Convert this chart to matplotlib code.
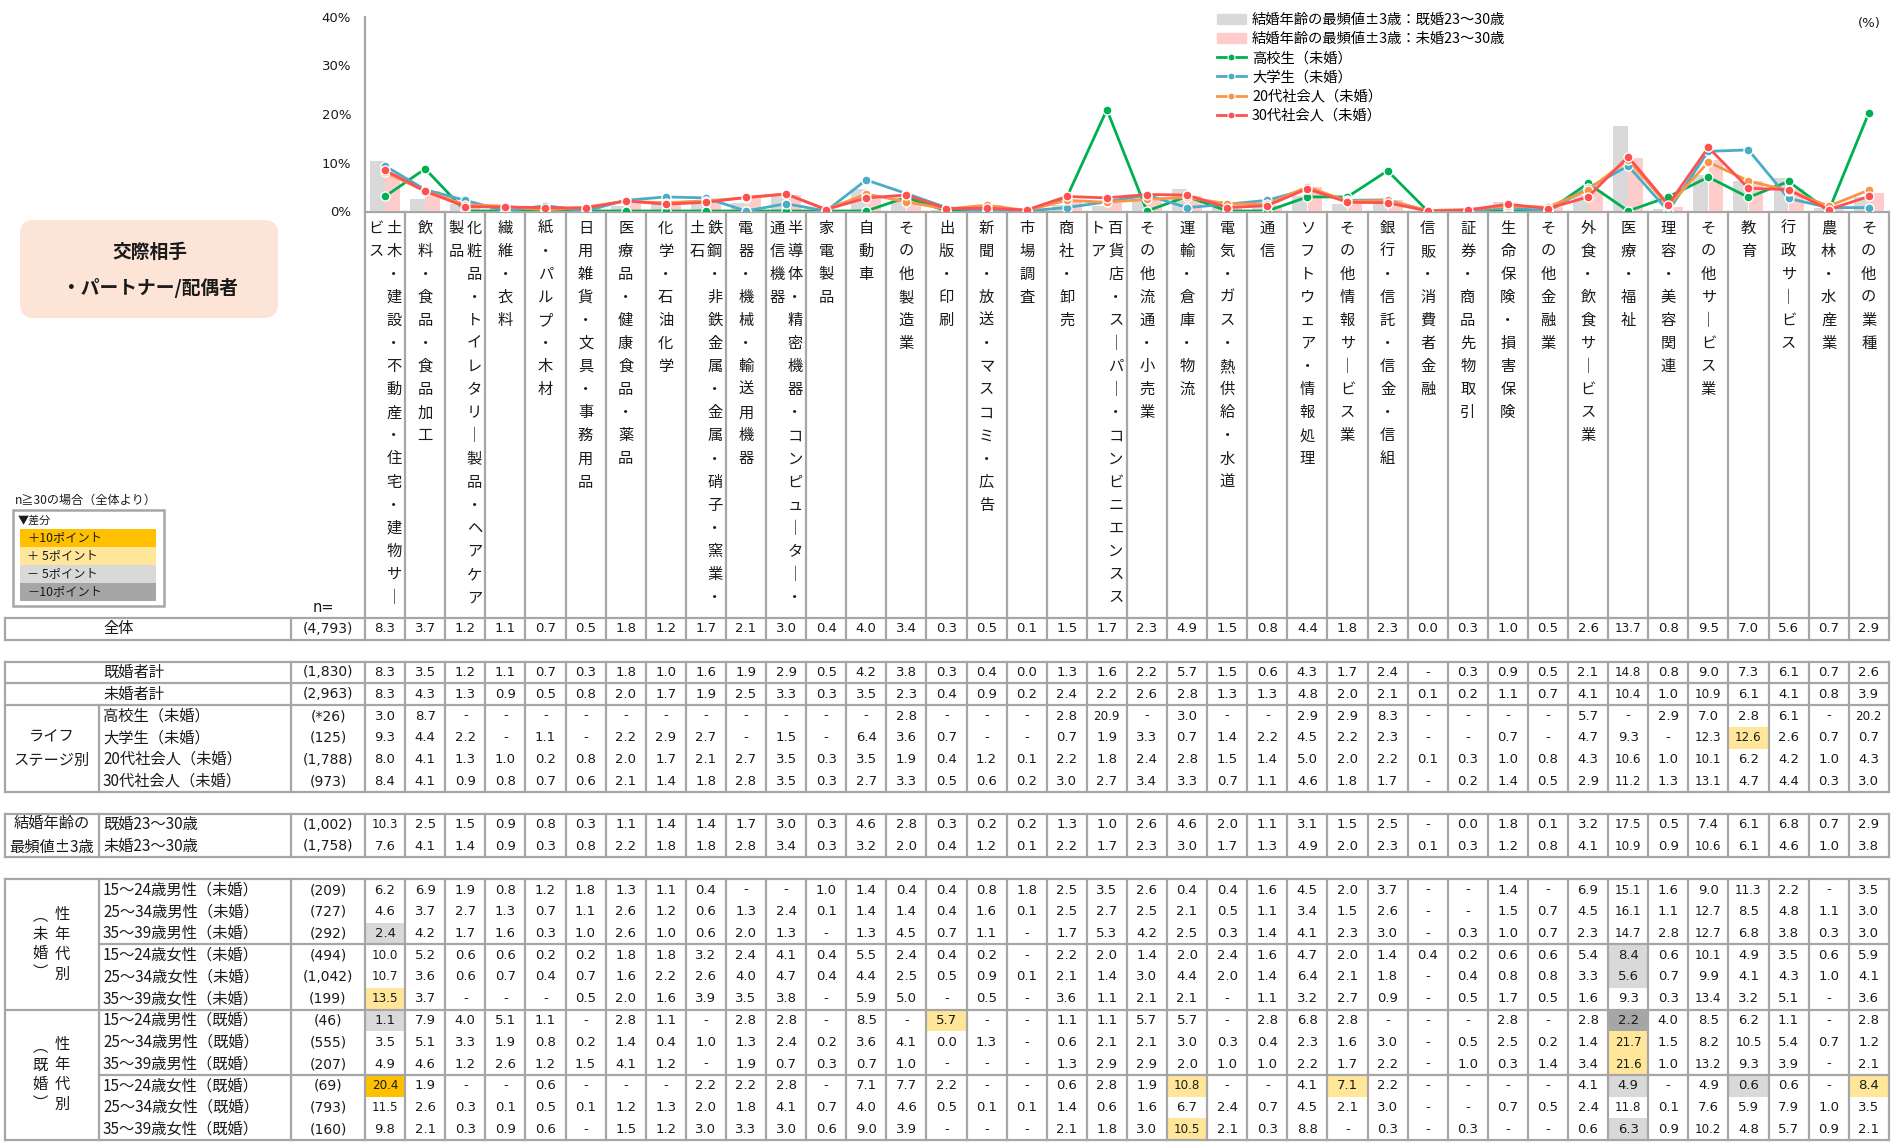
import numpy as np
import matplotlib
matplotlib.use("Agg")
import matplotlib.pyplot as plt
from matplotlib.patches import Rectangle, FancyBboxPatch, Patch
from matplotlib.lines import Line2D

plt.rcParams['font.family'] = ['DejaVu Sans', 'Noto Sans CJK JP']

_ = None  # "-" in the table

industries = [
    "土木・建設・不動産・住宅・建物サービス", "飲料・食品・食品加工",
    "化粧品・トイレタリー製品・ヘアケア製品", "繊維・衣料", "紙・パルプ・木材",
    "日用雑貨・文具・事務用品", "医療品・健康食品・薬品", "化学・石油化学",
    "鉄鋼・非鉄金属・金属・硝子・窯業・土石", "電器・機械・輸送用機器",
    "半導体・精密機器・コンピューター・通信機器", "家電製品", "自動車", "その他製造業",
    "出版・印刷", "新聞・放送・マスコミ・広告", "市場調査", "商社・卸売",
    "百貨店・スーパー・コンビニエンスストア", "その他流通・小売業", "運輸・倉庫・物流",
    "電気・ガス・熱供給・水道", "通信", "ソフトウェア・情報処理", "その他情報サービス業",
    "銀行・信託・信金・信組", "信販・消費者金融", "証券・商品先物取引", "生命保険・損害保険",
    "その他金融業", "外食・飲食サービス業", "医療・福祉", "理容・美容関連",
    "その他サービス業", "教育", "行政サービス", "農林・水産業", "その他の業種",
]

all_resp = [8.3,3.7,1.2,1.1,0.7,0.5,1.8,1.2,1.7,2.1,3.0,0.4,4.0,3.4,0.3,0.5,0.1,1.5,1.7,2.3,4.9,1.5,0.8,4.4,1.8,2.3,0.0,0.3,1.0,0.5,2.6,13.7,0.8,9.5,7.0,5.6,0.7,2.9]
married_total = [8.3,3.5,1.2,1.1,0.7,0.3,1.8,1.0,1.6,1.9,2.9,0.5,4.2,3.8,0.3,0.4,0.0,1.3,1.6,2.2,5.7,1.5,0.6,4.3,1.7,2.4,_,0.3,0.9,0.5,2.1,14.8,0.8,9.0,7.3,6.1,0.7,2.6]
unmarried_total = [8.3,4.3,1.3,0.9,0.5,0.8,2.0,1.7,1.9,2.5,3.3,0.3,3.5,2.3,0.4,0.9,0.2,2.4,2.2,2.6,2.8,1.3,1.3,4.8,2.0,2.1,0.1,0.2,1.1,0.7,4.1,10.4,1.0,10.9,6.1,4.1,0.8,3.9]
high_school = [3.0,8.7,_,_,_,_,_,_,_,_,_,_,_,2.8,_,_,_,2.8,20.9,_,3.0,_,_,2.9,2.9,8.3,_,_,_,_,5.7,_,2.9,7.0,2.8,6.1,_,20.2]
university = [9.3,4.4,2.2,_,1.1,_,2.2,2.9,2.7,_,1.5,_,6.4,3.6,0.7,_,_,0.7,1.9,3.3,0.7,1.4,2.2,4.5,2.2,2.3,_,_,0.7,_,4.7,9.3,_,12.3,12.6,2.6,0.7,0.7]
worker_20s = [8.0,4.1,1.3,1.0,0.2,0.8,2.0,1.7,2.1,2.7,3.5,0.3,3.5,1.9,0.4,1.2,0.1,2.2,1.8,2.4,2.8,1.5,1.4,5.0,2.0,2.2,0.1,0.3,1.0,0.8,4.3,10.6,1.0,10.1,6.2,4.2,1.0,4.3]
worker_30s = [8.4,4.1,0.9,0.8,0.7,0.6,2.1,1.4,1.8,2.8,3.5,0.3,2.7,3.3,0.5,0.6,0.2,3.0,2.7,3.4,3.3,0.7,1.1,4.6,1.8,1.7,_,0.2,1.4,0.5,2.9,11.2,1.3,13.1,4.7,4.4,0.3,3.0]
married_23_30 = [10.3,2.5,1.5,0.9,0.8,0.3,1.1,1.4,1.4,1.7,3.0,0.3,4.6,2.8,0.3,0.2,0.2,1.3,1.0,2.6,4.6,2.0,1.1,3.1,1.5,2.5,_,0.0,1.8,0.1,3.2,17.5,0.5,7.4,6.1,6.8,0.7,2.9]
unmarried_23_30 = [7.6,4.1,1.4,0.9,0.3,0.8,2.2,1.8,1.8,2.8,3.4,0.3,3.2,2.0,0.4,1.2,0.1,2.2,1.7,2.3,3.0,1.7,1.3,4.9,2.0,2.3,0.1,0.3,1.2,0.8,4.1,10.9,0.9,10.6,6.1,4.6,1.0,3.8]
m15_24_single = [6.2,6.9,1.9,0.8,1.2,1.8,1.3,1.1,0.4,_,_,1.0,1.4,0.4,0.4,0.8,1.8,2.5,3.5,2.6,0.4,0.4,1.6,4.5,2.0,3.7,_,_,1.4,_,6.9,15.1,1.6,9.0,11.3,2.2,_,3.5]
m25_34_single = [4.6,3.7,2.7,1.3,0.7,1.1,2.6,1.2,0.6,1.3,2.4,0.1,1.4,1.4,0.4,1.6,0.1,2.5,2.7,2.5,2.1,0.5,1.1,3.4,1.5,2.6,_,_,1.5,0.7,4.5,16.1,1.1,12.7,8.5,4.8,1.1,3.0]
m35_39_single = [2.4,4.2,1.7,1.6,0.3,1.0,2.6,1.0,0.6,2.0,1.3,_,1.3,4.5,0.7,1.1,_,1.7,5.3,4.2,2.5,0.3,1.4,4.1,2.3,3.0,_,0.3,1.0,0.7,2.3,14.7,2.8,12.7,6.8,3.8,0.3,3.0]
f15_24_single = [10.0,5.2,0.6,0.6,0.2,0.2,1.8,1.8,3.2,2.4,4.1,0.4,5.5,2.4,0.4,0.2,_,2.2,2.0,1.4,2.0,2.4,1.6,4.7,2.0,1.4,0.4,0.2,0.6,0.6,5.4,8.4,0.6,10.1,4.9,3.5,0.6,5.9]
f25_34_single = [10.7,3.6,0.6,0.7,0.4,0.7,1.6,2.2,2.6,4.0,4.7,0.4,4.4,2.5,0.5,0.9,0.1,2.1,1.4,3.0,4.4,2.0,1.4,6.4,2.1,1.8,_,0.4,0.8,0.8,3.3,5.6,0.7,9.9,4.1,4.3,1.0,4.1]
f35_39_single = [13.5,3.7,_,_,_,0.5,2.0,1.6,3.9,3.5,3.8,_,5.9,5.0,_,0.5,_,3.6,1.1,2.1,2.1,_,1.1,3.2,2.7,0.9,_,0.5,1.7,0.5,1.6,9.3,0.3,13.4,3.2,5.1,_,3.6]
m15_24_married = [1.1,7.9,4.0,5.1,1.1,_,2.8,1.1,_,2.8,2.8,_,8.5,_,5.7,_,_,1.1,1.1,5.7,5.7,_,2.8,6.8,2.8,_,_,_,2.8,_,2.8,2.2,4.0,8.5,6.2,1.1,_,2.8]
m25_34_married = [3.5,5.1,3.3,1.9,0.8,0.2,1.4,0.4,1.0,1.3,2.4,0.2,3.6,4.1,0.0,1.3,_,0.6,2.1,2.1,3.0,0.3,0.4,2.3,1.6,3.0,_,0.5,2.5,0.2,1.4,21.7,1.5,8.2,10.5,5.4,0.7,1.2]
m35_39_married = [4.9,4.6,1.2,2.6,1.2,1.5,4.1,1.2,_,1.9,0.7,0.3,0.7,1.0,_,_,_,1.3,2.9,2.9,2.0,1.0,1.0,2.2,1.7,2.2,_,1.0,0.3,1.4,3.4,21.6,1.0,13.2,9.3,3.9,_,2.1]
f15_24_married = [20.4,1.9,_,_,0.6,_,_,_,2.2,2.2,2.8,_,7.1,7.7,2.2,_,_,0.6,2.8,1.9,10.8,_,_,4.1,7.1,2.2,_,_,_,_,4.1,4.9,_,4.9,0.6,0.6,_,8.4]
f25_34_married = [11.5,2.6,0.3,0.1,0.5,0.1,1.2,1.3,2.0,1.8,4.1,0.7,4.0,4.6,0.5,0.1,0.1,1.4,0.6,1.6,6.7,2.4,0.7,4.5,2.1,3.0,_,_,0.7,0.5,2.4,11.8,0.1,7.6,5.9,7.9,1.0,3.5]
f35_39_married = [9.8,2.1,0.3,0.9,0.6,_,1.5,1.2,3.0,3.3,3.0,0.6,9.0,3.9,_,_,_,2.1,1.8,3.0,10.5,2.1,0.3,8.8,_,0.3,_,0.3,_,_,0.6,6.3,0.9,10.2,4.8,5.7,0.9,2.1]

row_labels = ["全体", "既婚者計", "未婚者計", "高校生（未婚）", "大学生（未婚）",
              "20代社会人（未婚）", "30代社会人（未婚）", "既婚23～30歳", "未婚23～30歳",
              "15～24歳男性（未婚）", "25～34歳男性（未婚）", "35～39歳男性（未婚）",
              "15～24歳女性（未婚）", "25～34歳女性（未婚）", "35～39歳女性（未婚）",
              "15～24歳男性（既婚）", "25～34歳男性（既婚）", "35～39歳男性（既婚）",
              "15～24歳女性（既婚）", "25～34歳女性（既婚）", "35～39歳女性（既婚）"]
sample_n = [4793, 1830, 2963, 26, 125, 1788, 973, 1002, 1758,
            209, 727, 292, 494, 1042, 199, 46, 555, 207, 69, 793, 160]
rows = [all_resp, married_total, unmarried_total, high_school, university, worker_20s,
        worker_30s, married_23_30, unmarried_23_30,
        m15_24_single, m25_34_single, m35_39_single, f15_24_single, f25_34_single, f35_39_single,
        m15_24_married, m25_34_married, m35_39_married, f15_24_married, f25_34_married, f35_39_married]

# ---------------- layout (pixels) ----------------
W, H = 1891, 1142
X0, CW = 365, 40.1           # first data column, column width
NC = len(industries)
XE = X0 + NC * CW
Y_ROW0, PITCH = 629, 21.75
slots = [0, 2, 3, 4, 5, 6, 7, 9, 10] + list(range(12, 24))
LC = '#A6A6A6'
LW = 1.6
TXT = '#1a1a1a'
JP = ['Noto Sans CJK JP', 'DejaVu Sans']


def ytop(s):
    return Y_ROW0 + PITCH * (s - 0.5)


fig = plt.figure(figsize=(W / 100, H / 100), dpi=100)
tab = fig.add_axes([0, 0, 1, 1], zorder=0)
tab.set_xlim(0, W)
tab.set_ylim(H, 0)
tab.axis('off')

# ---------------- chart ----------------
Y_ZERO, Y_40 = 211, 17
ax = fig.add_axes([X0 / W, 1 - Y_ZERO / H, NC * CW / W, (Y_ZERO - Y_40) / H], zorder=2)
ax.patch.set_alpha(0)
x = np.arange(NC) + 0.5


def zeros(v):
    return [0 if a is None else a for a in v]


ax.bar(x - 0.19, zeros(married_23_30), width=0.37, color='#D9D9D9', zorder=1)
ax.bar(x + 0.19, zeros(unmarried_23_30), width=0.37, color='#FFCCCC', zorder=1)
series = [(high_school, '#00B050'), (university, '#4BACC6'),
          (worker_20s, '#F79646'), (worker_30s, '#FF5050')]
for k, (vals, col) in enumerate(series):
    ax.plot(x, zeros(vals), color=col, lw=2.0, marker='o', ms=6.5, mec='white',
            mew=1.0, zorder=3 + k)
ax.set_xlim(0, NC)
ax.set_ylim(0, 40)
ax.set_yticks([0, 10, 20, 30, 40])
ax.set_yticklabels([f'{t}%' for t in [0, 10, 20, 30, 40]], fontsize=9.5, color=TXT)
ax.tick_params(axis='y', length=0, pad=10)
ax.set_xticks([])
for s in ['top', 'right', 'bottom']:
    ax.spines[s].set_visible(False)
ax.spines['left'].set_color(LC)
ax.spines['left'].set_linewidth(LW)

handles = [Patch(color='#D9D9D9'), Patch(color='#FFCCCC')] + [
    Line2D([], [], color=c, lw=2.0, marker='o', ms=5, mec='white', mew=0.8) for _v, c in series]
labels = ["結婚年齢の最頻値±3歳：既婚23～30歳", "結婚年齢の最頻値±3歳：未婚23～30歳",
          "高校生（未婚）", "大学生（未婚）", "20代社会人（未婚）", "30代社会人（未婚）"]
fig.legend(handles, labels, loc='upper left', bbox_to_anchor=(1217 / W, 1 - 13 / H),
           frameon=False, handlelength=2.0, handleheight=0.7,
           handletextpad=0.45, labelspacing=0.36, borderpad=0, borderaxespad=0,
           prop={'family': JP, 'size': 10.3})
tab.text(1869, 24, '(%)', ha='center', va='center', fontsize=9.5, color=TXT)

# ---------------- header (vertical labels) ----------------
xb = [X0 + CW * k for k in range(NC + 1)]
tab.plot([X0, XE], [212, 212], color=LC, lw=LW)
for xv in xb:
    tab.plot([xv, xv], [212, ytop(0)], color=LC, lw=LW)
VERT = {'ー': '｜'}
for j, name in enumerate(industries):
    chars = [VERT.get(c, c) for c in name]
    parts = [chars[i:i + 17] for i in range(0, len(chars), 17)]
    xc = X0 + CW * (j + 0.5)
    offs = [0] if len(parts) == 1 else [9, -9]
    for off, part in zip(offs, parts):
        for k, ch in enumerate(part):
            tab.text(xc + off, 228 + 23.1 * k, ch, ha='center', va='center',
                     fontsize=11, family=JP, color=TXT)

# ---------------- left side boxes ----------------
tab.add_patch(FancyBboxPatch((20, 220), 258, 98, boxstyle='round,pad=0,rounding_size=14',
                             fc='#FCE4D6', ec='none'))
tab.text(150, 252, '交際相手', ha='center', va='center', fontsize=13.5, weight='bold',
         family=JP, color=TXT)
tab.text(150, 288, '・パートナー/配偶者', ha='center', va='center', fontsize=13.5,
         weight='bold', family=JP, color=TXT)

tab.text(15, 500, 'n≧30の場合（全体より）', ha='left', va='center', fontsize=8.7,
         family=JP, color=TXT)
tab.add_patch(Rectangle((13, 510), 151, 96, fc='white', ec=LC, lw=1.8))
tab.text(18, 520, '▼差分', ha='left', va='center', fontsize=8, family=JP, color=TXT)
diff_keys = [('＋10ポイント', '#FFC000'), ('＋ 5ポイント', '#FFE699'),
             ('－ 5ポイント', '#D9D9D9'), ('－10ポイント', '#A6A6A6')]
for k, (lab, col) in enumerate(diff_keys):
    y0 = 529 + 18 * k
    tab.add_patch(Rectangle((20, y0), 136, 18, fc=col, ec='none'))
    tab.text(27, y0 + 9, lab, ha='left', va='center', fontsize=8.8, family=JP, color=TXT)
tab.text(323, 607, 'n=', ha='center', va='center', fontsize=10.5, color=TXT)

# ---------------- table ----------------
def hline(y, x0=5):
    tab.plot([x0, XE], [y, y], color=LC, lw=LW, zorder=3)


def vline(xv, y0, y1):
    tab.plot([xv, xv], [y0, y1], color=LC, lw=LW, zorder=3)


blocks = [(0, 0), (2, 7), (9, 10), (12, 23)]
for s0, s1 in blocks:
    t, b = ytop(s0), ytop(s1 + 1)
    hline(t)
    hline(b)
    for xv in [5, 291] + xb:
        vline(xv, t, b)
for s in [3, 4, 18]:
    hline(ytop(s))
for s in [15, 21]:
    hline(ytop(s), 99)
for s0, s1 in [(4, 7), (9, 10), (12, 23)]:
    vline(99, ytop(s0), ytop(s1 + 1))

base = all_resp
for r, (lab, n, vals, s) in enumerate(zip(row_labels, sample_n, rows, slots)):
    yc = Y_ROW0 + PITCH * s
    tab.text(103, yc, lab, ha='left', va='center', fontsize=11, family=JP, color=TXT)
    ntxt = f'(*{n})' if n < 30 else f'({n:,})'
    tab.text(328, yc, ntxt, ha='center', va='center', fontsize=10, color=TXT)
    for j, v in enumerate(vals):
        xc = X0 + CW * (j + 0.5)
        if v is None:
            tab.text(xc, yc, '-', ha='center', va='center', fontsize=9.5, color=TXT)
            continue
        if r > 0 and n >= 30:
            d = round(v - base[j], 1)
            col = None
            if d >= 10:
                col = '#FFC000'
            elif d > 5:
                col = '#FFE699'
            elif d <= -10:
                col = '#A6A6A6'
            elif d < -5:
                col = '#D9D9D9'
            if col:
                tab.add_patch(Rectangle((xb[j], ytop(s)), CW, PITCH, fc=col, ec='none', zorder=1))
        s_txt = f'{v:.1f}'
        tab.text(xc, yc, s_txt, ha='center', va='center',
                 fontsize=9.5 if len(s_txt) < 4 else 8.6, color=TXT, zorder=4)

tab.text(52, Y_ROW0 + PITCH * 5.5, 'ライフ\nステージ別', ha='center', va='center',
         fontsize=11, family=JP, color=TXT, linespacing=1.5)
tab.text(52, Y_ROW0 + PITCH * 9.5, '結婚年齢の\n最頻値±3歳', ha='center', va='center',
         fontsize=11, family=JP, color=TXT, linespacing=1.5)
for sc, word in [(14.5, '未婚'), (20.5, '既婚')]:
    yc = Y_ROW0 + PITCH * sc
    for k, ch in enumerate('性年代別'):
        tab.text(62, yc + 20 * (k - 1.5), ch, ha='center', va='center', fontsize=11,
                 family=JP, color=TXT)
    for k, ch in enumerate('︵' + word + '︶'):
        tab.text(40, yc + 19 * (k - 1.5), ch, ha='center', va='center', fontsize=11,
                 family=JP, color=TXT)

fig.savefig('out.png', dpi=100, facecolor='white')
